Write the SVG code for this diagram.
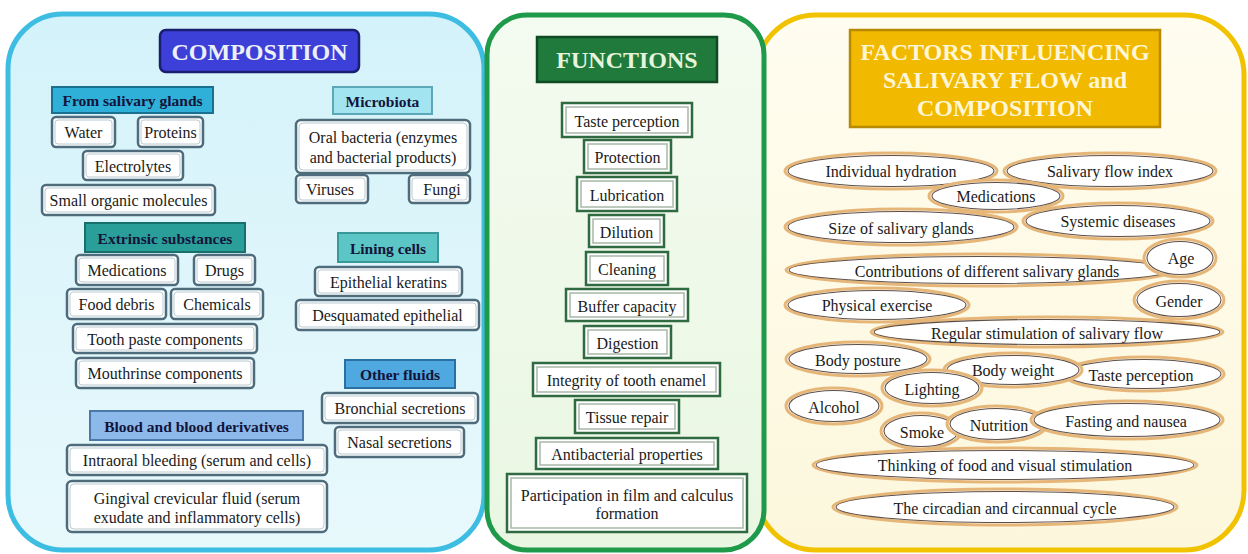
<svg xmlns="http://www.w3.org/2000/svg" width="1248" height="554" viewBox="0 0 1248 554">
<defs>
<linearGradient id="g1" x1="0" y1="0" x2="0" y2="1"><stop offset="0" stop-color="#d4f2fa"/><stop offset="1" stop-color="#e8f9fc"/></linearGradient>
<linearGradient id="g2" x1="0" y1="0" x2="0" y2="1"><stop offset="0" stop-color="#f4fbf0"/><stop offset="1" stop-color="#e9f7e2"/></linearGradient>
<linearGradient id="g3" x1="0" y1="0" x2="0" y2="1"><stop offset="0" stop-color="#fffdf0"/><stop offset="1" stop-color="#fcf7dc"/></linearGradient>
</defs>
<style>
text{font-family:"Liberation Serif","Times New Roman",serif;fill:#1a1a1a;text-anchor:middle;dominant-baseline:central}
.t{font-size:16px}
.h{font-size:15.5px;font-weight:bold;fill:#14143a}
.title{font-weight:bold;font-size:24px}
.cb{fill:#fff;stroke:#4e6c7c;stroke-width:2.5}
.ci{fill:none;stroke:#b8ccd4;stroke-width:1}
.fb{fill:#fff;stroke:#2f6a40;stroke-width:2.5}
.fi{fill:none;stroke:#a8b8a8;stroke-width:1.5}
.eo{fill:#fff;stroke:#e6b678;stroke-width:3}
.ei{fill:none;stroke:#5e5048;stroke-width:1.1}
</style>
<rect width="1248" height="554" fill="#fff"/>
<g id="panel-composition">
<rect x="8" y="14" width="476" height="536" rx="55" fill="url(#g1)" stroke="#3ebde3" stroke-width="5"/>
</g>
<g id="panel-factors">
<rect x="756" y="15" width="488" height="535" rx="60" fill="url(#g3)" stroke="#f1c200" stroke-width="5"/>
</g>
<g id="panel-functions">
<rect x="487" y="15" width="277" height="535" rx="40" fill="url(#g2)" stroke="#1f9a4a" stroke-width="5"/>
</g>

<g id="title-composition">
<rect x="160" y="30" width="199" height="42" rx="6" fill="#3c40d8" stroke="#1a1e70" stroke-width="2.5"/>
<text class="title" x="259.5" y="52" style="fill:#eef0f8">COMPOSITION</text>
</g>
<g id="title-functions">
<rect x="537" y="37" width="180" height="45" fill="#1f7a3c" stroke="#0f4a22" stroke-width="2.5"/>
<text class="title" x="627" y="60" style="fill:#e6f4dc">FUNCTIONS</text>
</g>
<g id="title-factors">
<rect x="850" y="30" width="310" height="97" fill="#f1b900" stroke="#b88a00" stroke-width="2.5"/>
<text class="title" x="1005" y="52" style="fill:#fff6d6">FACTORS INFLUENCING</text>
<text class="title" x="1005" y="80" style="fill:#fff6d6">SALIVARY FLOW and</text>
<text class="title" x="1005" y="108" style="fill:#fff6d6">COMPOSITION</text>
</g>

<!-- Composition headers -->
<g id="h-salivary"><rect x="52" y="87" width="161" height="26" fill="#2fb0d8" stroke="#1a7090" stroke-width="2"/><text class="h" x="132.5" y="100.5">From salivary glands</text></g>
<g id="h-microbiota"><rect x="333" y="87" width="99" height="27" fill="#a2e4f0" stroke="#5aa8b8" stroke-width="2"/><text class="h" x="382.5" y="101">Microbiota</text></g>
<g id="h-extrinsic"><rect x="85" y="223" width="160" height="29" fill="#2a9f9a" stroke="#17706c" stroke-width="2"/><text class="h" x="165" y="238">Extrinsic substances</text></g>
<g id="h-lining"><rect x="338" y="233" width="100" height="29" fill="#5cc6c6" stroke="#3a9898" stroke-width="2"/><text class="h" x="388" y="248">Lining cells</text></g>
<g id="h-other"><rect x="345" y="360" width="110" height="28" fill="#4fa8e0" stroke="#2a70a0" stroke-width="2"/><text class="h" x="400" y="374.5">Other fluids</text></g>
<g id="h-blood"><rect x="90" y="411" width="213" height="29" fill="#8cb8ea" stroke="#4a78a8" stroke-width="2"/><text class="h" x="196.5" y="426">Blood and blood derivatives</text></g>

<!-- Composition items -->
<g id="c-water"><rect class="cb" x="52" y="117" width="63" height="30" rx="4"/><rect class="ci" x="55" y="120" width="57" height="24" rx="3"/><text class="t" x="83.5" y="132">Water</text></g>
<g id="c-proteins"><rect class="cb" x="138" y="117" width="65" height="30" rx="4"/><rect class="ci" x="141" y="120" width="59" height="24" rx="3"/><text class="t" x="170.5" y="132">Proteins</text></g>
<g id="c-electrolytes"><rect class="cb" x="83" y="151" width="100" height="29" rx="4"/><rect class="ci" x="86" y="154" width="94" height="23" rx="3"/><text class="t" x="133" y="166">Electrolytes</text></g>
<g id="c-small"><rect class="cb" x="42" y="185" width="173" height="30" rx="4"/><rect class="ci" x="45" y="188" width="167" height="24" rx="3"/><text class="t" x="128.5" y="200.5">Small organic molecules</text></g>
<g id="c-oral"><rect class="cb" x="296" y="120" width="174" height="53" rx="5"/><rect class="ci" x="299" y="123" width="168" height="47" rx="4"/><text class="t" x="383" y="137.5">Oral bacteria (enzymes</text><text class="t" x="383" y="157.5">and bacterial products)</text></g>
<g id="c-viruses"><rect class="cb" x="296" y="175" width="72" height="28" rx="4"/><rect class="ci" x="299" y="178" width="66" height="22" rx="3"/><text class="t" x="330" y="189.5">Viruses</text></g>
<g id="c-fungi"><rect class="cb" x="409" y="175" width="61" height="28" rx="4"/><rect class="ci" x="412" y="178" width="55" height="22" rx="3"/><text class="t" x="442" y="189.5">Fungi</text></g>
<g id="c-medications"><rect class="cb" x="76" y="255" width="102" height="30" rx="4"/><rect class="ci" x="79" y="258" width="96" height="24" rx="3"/><text class="t" x="127" y="270.5">Medications</text></g>
<g id="c-drugs"><rect class="cb" x="194" y="255" width="61" height="30" rx="4"/><rect class="ci" x="197" y="258" width="55" height="24" rx="3"/><text class="t" x="224.5" y="270.5">Drugs</text></g>
<g id="c-food"><rect class="cb" x="67" y="289" width="99" height="30" rx="4"/><rect class="ci" x="70" y="292" width="93" height="24" rx="3"/><text class="t" x="116.5" y="304.5">Food debris</text></g>
<g id="c-chemicals"><rect class="cb" x="171" y="289" width="92" height="30" rx="4"/><rect class="ci" x="174" y="292" width="86" height="24" rx="3"/><text class="t" x="217" y="304.5">Chemicals</text></g>
<g id="c-toothpaste"><rect class="cb" x="73" y="324" width="184" height="29" rx="4"/><rect class="ci" x="76" y="327" width="178" height="23" rx="3"/><text class="t" x="165" y="339">Tooth paste components</text></g>
<g id="c-mouthrinse"><rect class="cb" x="76" y="358" width="178" height="30" rx="4"/><rect class="ci" x="79" y="361" width="172" height="24" rx="3"/><text class="t" x="165" y="373.5">Mouthrinse components</text></g>
<g id="c-keratins"><rect class="cb" x="315" y="267" width="147" height="29" rx="4"/><rect class="ci" x="318" y="270" width="141" height="23" rx="3"/><text class="t" x="388.5" y="282">Epithelial keratins</text></g>
<g id="c-desquamated"><rect class="cb" x="296" y="300" width="183" height="30" rx="4"/><rect class="ci" x="299" y="303" width="177" height="24" rx="3"/><text class="t" x="387.5" y="315.5">Desquamated epithelial</text></g>
<g id="c-bronchial"><rect class="cb" x="322" y="393" width="156" height="30" rx="4"/><rect class="ci" x="325" y="396" width="150" height="24" rx="3"/><text class="t" x="400" y="408.5">Bronchial secretions</text></g>
<g id="c-nasal"><rect class="cb" x="335" y="427" width="129" height="30" rx="4"/><rect class="ci" x="338" y="430" width="123" height="24" rx="3"/><text class="t" x="399.5" y="442.5">Nasal secretions</text></g>
<g id="c-intraoral"><rect class="cb" x="67" y="445" width="260" height="30" rx="4"/><rect class="ci" x="70" y="448" width="254" height="24" rx="3"/><text class="t" x="197" y="460.5">Intraoral bleeding (serum and cells)</text></g>
<g id="c-gingival"><rect class="cb" x="67" y="481" width="260" height="51" rx="5"/><rect class="ci" x="70" y="484" width="254" height="45" rx="4"/><text class="t" x="197" y="498">Gingival crevicular fluid (serum</text><text class="t" x="197" y="517">exudate and inflammatory cells)</text></g>

<!-- Functions -->
<g id="f-taste"><rect class="fb" x="562" y="103" width="130" height="34"/><rect class="fi" x="566" y="107" width="122" height="26"/><text class="t" x="627" y="121">Taste perception</text></g>
<g id="f-protection"><rect class="fb" x="584" y="140" width="87" height="33"/><rect class="fi" x="588" y="144" width="79" height="25"/><text class="t" x="627.5" y="157.5">Protection</text></g>
<g id="f-lubrication"><rect class="fb" x="577" y="177" width="100" height="34"/><rect class="fi" x="581" y="181" width="92" height="26"/><text class="t" x="627" y="195">Lubrication</text></g>
<g id="f-dilution"><rect class="fb" x="589" y="215" width="75" height="32"/><rect class="fi" x="593" y="219" width="67" height="24"/><text class="t" x="626.5" y="232">Dilution</text></g>
<g id="f-cleaning"><rect class="fb" x="586" y="252" width="82" height="33"/><rect class="fi" x="590" y="256" width="74" height="25"/><text class="t" x="627" y="269.5">Cleaning</text></g>
<g id="f-buffer"><rect class="fb" x="566" y="289" width="122" height="32"/><rect class="fi" x="570" y="293" width="114" height="24"/><text class="t" x="627" y="306">Buffer capacity</text></g>
<g id="f-digestion"><rect class="fb" x="584" y="326" width="87" height="32"/><rect class="fi" x="588" y="330" width="79" height="24"/><text class="t" x="627.5" y="343">Digestion</text></g>
<g id="f-integrity"><rect class="fb" x="533" y="363" width="187" height="33"/><rect class="fi" x="537" y="367" width="179" height="25"/><text class="t" x="626.5" y="380.5">Integrity of tooth enamel</text></g>
<g id="f-tissue"><rect class="fb" x="575" y="400" width="104" height="33"/><rect class="fi" x="579" y="404" width="96" height="25"/><text class="t" x="627" y="417.5">Tissue repair</text></g>
<g id="f-antibacterial"><rect class="fb" x="536" y="438" width="182" height="31"/><rect class="fi" x="540" y="442" width="174" height="23"/><text class="t" x="627" y="454.5">Antibacterial properties</text></g>
<g id="f-participation"><rect class="fb" x="507" y="474" width="240" height="58"/><rect class="fi" x="511" y="478" width="232" height="50"/><text class="t" x="627" y="495">Participation in film and calculus</text><text class="t" x="627" y="513">formation</text></g>

<!-- Factors -->
<g id="e-hydration"><ellipse class="eo" cx="891" cy="171" rx="106" ry="18"/><ellipse class="ei" cx="891" cy="171" rx="103" ry="15.5"/><text class="t" x="891" y="171">Individual hydration</text></g>
<g id="e-flowindex"><ellipse class="eo" cx="1110" cy="171" rx="106" ry="18"/><ellipse class="ei" cx="1110" cy="171" rx="103" ry="15.5"/><text class="t" x="1110" y="171">Salivary flow index</text></g>
<g id="e-medications"><ellipse class="eo" cx="996" cy="196" rx="67" ry="16"/><ellipse class="ei" cx="996" cy="196" rx="64" ry="13.5"/><text class="t" x="996" y="196">Medications</text></g>
<g id="e-size"><ellipse class="eo" cx="901" cy="227" rx="116" ry="18"/><ellipse class="ei" cx="901" cy="227" rx="113" ry="15.5"/><text class="t" x="901" y="228">Size of salivary glands</text></g>
<g id="e-systemic"><ellipse class="eo" cx="1118" cy="221" rx="95" ry="18"/><ellipse class="ei" cx="1118" cy="221" rx="92" ry="15.5"/><text class="t" x="1118" y="221">Systemic diseases</text></g>
<g id="e-contributions"><ellipse class="eo" cx="980" cy="270" rx="194" ry="16"/><ellipse class="ei" cx="980" cy="270" rx="191" ry="13.5"/><text class="t" x="987" y="271">Contributions of different salivary glands</text></g>
<g id="e-age"><ellipse class="eo" cx="1180" cy="258" rx="36" ry="19"/><ellipse class="ei" cx="1180" cy="258" rx="33" ry="16.5"/><text class="t" x="1181" y="258">Age</text></g>
<g id="e-physical"><ellipse class="eo" cx="877" cy="305" rx="92" ry="17"/><ellipse class="ei" cx="877" cy="305" rx="89" ry="14.5"/><text class="t" x="877" y="305">Physical exercise</text></g>
<g id="e-gender"><ellipse class="eo" cx="1179" cy="300" rx="45" ry="19"/><ellipse class="ei" cx="1179" cy="300" rx="42" ry="16.5"/><text class="t" x="1179" y="301">Gender</text></g>
<g id="e-regular"><ellipse class="eo" cx="1047" cy="332" rx="176" ry="15"/><ellipse class="ei" cx="1047" cy="332" rx="173" ry="12.5"/><text class="t" x="1047" y="333">Regular stimulation of salivary flow</text></g>
<g id="e-posture"><ellipse class="eo" cx="858" cy="359" rx="72" ry="17"/><ellipse class="ei" cx="858" cy="359" rx="69" ry="14.5"/><text class="t" x="858" y="360">Body posture</text></g>
<g id="e-taste"><ellipse class="eo" cx="1144" cy="374" rx="80" ry="17"/><ellipse class="ei" cx="1144" cy="374" rx="77" ry="14.5"/><text class="t" x="1141" y="375">Taste perception</text></g>
<g id="e-weight"><ellipse class="eo" cx="1013" cy="370" rx="69" ry="17"/><ellipse class="ei" cx="1013" cy="370" rx="66" ry="14.5"/><text class="t" x="1013" y="370">Body weight</text></g>
<g id="e-lighting"><ellipse class="eo" cx="932" cy="388" rx="50" ry="18"/><ellipse class="ei" cx="932" cy="388" rx="47" ry="15.5"/><text class="t" x="932" y="389">Lighting</text></g>
<g id="e-alcohol"><ellipse class="eo" cx="834" cy="406" rx="48" ry="18"/><ellipse class="ei" cx="834" cy="406" rx="45" ry="15.5"/><text class="t" x="834" y="407">Alcohol</text></g>
<g id="e-smoke"><ellipse class="eo" cx="921" cy="431" rx="40" ry="18"/><ellipse class="ei" cx="921" cy="431" rx="37" ry="15.5"/><text class="t" x="922" y="432">Smoke</text></g>
<g id="e-nutrition"><ellipse class="eo" cx="997" cy="424" rx="50" ry="18"/><ellipse class="ei" cx="997" cy="424" rx="47" ry="15.5"/><text class="t" x="999" y="425">Nutrition</text></g>
<g id="e-fasting"><ellipse class="eo" cx="1127" cy="420" rx="96" ry="19"/><ellipse class="ei" cx="1127" cy="420" rx="93" ry="16.5"/><text class="t" x="1126" y="421">Fasting and nausea</text></g>
<g id="e-thinking"><ellipse class="eo" cx="1005" cy="465" rx="192" ry="17"/><ellipse class="ei" cx="1005" cy="465" rx="189" ry="14.5"/><text class="t" x="1005" y="465">Thinking of food and visual stimulation</text></g>
<g id="e-circadian"><ellipse class="eo" cx="1005" cy="507" rx="172" ry="18"/><ellipse class="ei" cx="1005" cy="507" rx="169" ry="15.5"/><text class="t" x="1005" y="508">The circadian and circannual cycle</text></g>

<g id="connectors"></g>
</svg>
